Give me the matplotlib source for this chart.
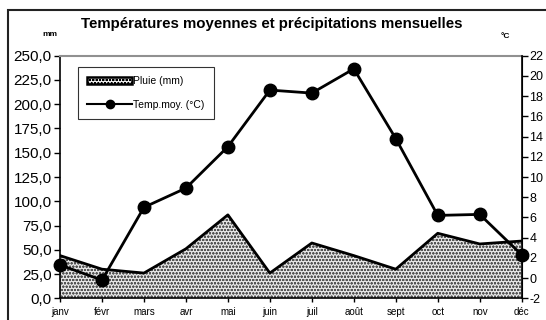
import matplotlib
matplotlib.use("Agg")
import matplotlib.pyplot as plt
from matplotlib.patches import Rectangle, Patch
from matplotlib.lines import Line2D
from matplotlib.ticker import FuncFormatter

plt.rcParams['font.family'] = ['Liberation Sans', 'DejaVu Sans']
plt.rcParams['hatch.linewidth'] = 0.6
plt.rcParams['axes.unicode_minus'] = False

# Data
months = ['janv', 'févr', 'mars', 'avr', 'mai', 'juin', 'juil', 'août', 'sept', 'oct', 'nov', 'déc']
rain_mm = [44, 30, 26, 51, 86, 26, 57, 44, 30, 67, 56, 59]
temp_c = [1.3, -0.2, 7.0, 8.9, 13.0, 18.6, 18.3, 20.7, 13.8, 6.2, 6.3, 2.3]
rain_ticks = [0, 25, 50, 75, 100, 125, 150, 175, 200, 225, 250]
temp_ticks = [-2, 0, 2, 4, 6, 8, 10, 12, 14, 16, 18, 20, 22]

fig = plt.figure(figsize=(5.46, 3.20), dpi=100)
ax = fig.add_axes([60 / 546, 1 - 298.3 / 320, 461.7 / 546, 242.6 / 320])

x = list(range(len(months)))

# rain as hatched area
ax.fill_between(x, 0, rain_mm, facecolor='#e6e6e6', edgecolor='#555555',
                hatch='ooooo', linewidth=0, zorder=1)
ax.plot(x, rain_mm, color='black', linewidth=2, zorder=2)

ax.set_xlim(0, 11)
ax.set_ylim(0, 250)
ax.set_yticks(rain_ticks)
ax.yaxis.set_major_formatter(FuncFormatter(lambda v, p: f'{v:.1f}'.replace('.', ',')))
ax.set_xticks(x)
ax.set_xticklabels(months, fontsize=7)
ax.tick_params(axis='y', labelsize=11, length=4, width=1, direction='out', pad=2)
ax.tick_params(axis='x', length=3, width=1, direction='out', pad=3)
for side in ['left', 'bottom']:
    ax.spines[side].set_linewidth(1.2)
ax.spines['top'].set_color('#909090')
ax.spines['top'].set_linewidth(1.5)

# temperature on the right axis
ax2 = ax.twinx()
ax2.plot(x, temp_c, color='black', linewidth=2, marker='o', markersize=9,
         clip_on=False, zorder=5)
ax2.set_ylim(-2, 22)
ax2.set_yticks(temp_ticks)
ax2.yaxis.set_major_formatter(FuncFormatter(lambda v, p: f'{v:.0f}'))
ax2.tick_params(axis='y', labelsize=9, length=4, width=1, direction='out', pad=1.5)
ax2.spines['right'].set_linewidth(1.2)
ax2.spines['top'].set_visible(False)
ax2.spines['left'].set_visible(False)
ax2.spines['bottom'].set_visible(False)

# legend
handles = [
    Patch(facecolor='#f0f0f0', edgecolor='black', hatch='ooooo', linewidth=1.8, label='Pluie (mm)'),
    Line2D([0], [0], color='black', linewidth=1.5, marker='o', markersize=6, label='Temp.moy. (°C)'),
]
leg = ax2.legend(handles=handles, loc='upper left', bbox_to_anchor=(0.039, 0.955),
                 fontsize=7.5, frameon=True, fancybox=False, edgecolor='black',
                 handlelength=4.3, handletextpad=0.1, labelspacing=1.3,
                 borderpad=0.9, borderaxespad=0)
leg.get_frame().set_linewidth(0.8)

# titles
fig.text(272 / 546, 1 - 24 / 320, 'Températures moyennes et précipitations mensuelles',
         ha='center', va='center', fontsize=10.8, fontweight='bold')
fig.text(50 / 546, 1 - 34 / 320, 'mm', ha='center', va='center', fontsize=6, fontweight='bold')
fig.text(505 / 546, 1 - 37 / 320, '°C', ha='center', va='center', fontsize=6, fontweight='bold')

# outer chart border
fig.patches.append(Rectangle((8 / 546, -0.1), 1.0, 1 - 10 / 320 + 0.1,
                             transform=fig.transFigure, fill=False,
                             edgecolor='#222222', linewidth=1.5))

fig.savefig('out.png', dpi=100)
